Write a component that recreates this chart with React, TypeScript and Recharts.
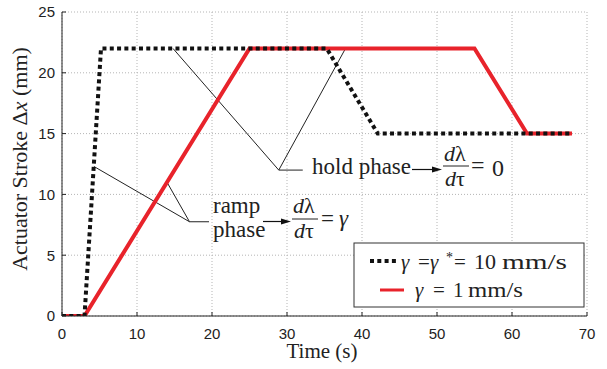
import React from "react";
import { LineChart, Line, XAxis, YAxis, CartesianGrid, ReferenceLine, Customized } from "recharts";

// gamma = gamma* = 10 mm/s (dotted black)
const timeFast = [0, 3, 5.2, 35.3, 42.1, 68];
const strokeFast = [0, 0, 22, 22, 15, 15];
// gamma = 1 mm/s (red)
const timeSlow = [0, 3, 25, 55, 62, 68];
const strokeSlow = [0, 0, 22, 22, 15, 15];

const xTicks = [0, 10, 20, 30, 40, 50, 60, 70];
const yTicks = [0, 5, 10, 15, 20, 25];

// annotation leader lines (data coordinates)
const holdVertex = { x: 28.9, y: 12 };
const holdStarts = [{ x: 14.8, y: 22 }, { x: 37.8, y: 22 }];
const holdEndX = 32.1;
const rampVertex = { x: 17.0, y: 7.75 };
const rampStarts = [{ x: 4.25, y: 12.3 }, { x: 14, y: 11 }];
const rampEndX = 19.6;

const fastData = timeFast.map((t, i) => ({ t, v: strokeFast[i] }));
const slowData = timeSlow.map((t, i) => ({ t, v: strokeSlow[i] }));

const RED = "#e8232b";
const SERIF = "'Liberation Serif', 'Times New Roman', serif";
const SANS = "'Liberation Sans', Arial, Helvetica, sans-serif";

const Arrow = ({ x1, x2, y }: { x1: number; x2: number; y: number }) => (
  <g>
    <line x1={x1} y1={y} x2={x2 - 7} y2={y} stroke="#111" strokeWidth={1.2} />
    <path d={`M${x2},${y} L${x2 - 10},${y - 3} L${x2 - 10},${y + 3} Z`} fill="#111" />
  </g>
);

const Frac = ({ x, yNum, yDen, yBar, w }: { x: number; yNum: number; yDen: number; yBar: number; w: number }) => (
  <g fontFamily={SERIF} fontSize={22} fill="#222">
    <text x={x} y={yNum}>
      <tspan fontStyle="italic">d</tspan>
      <tspan>λ</tspan>
    </text>
    <line x1={x - 1} x2={x + w} y1={yBar} y2={yBar} stroke="#222" strokeWidth={1} />
    <text x={x + 1} y={yDen}>
      <tspan fontStyle="italic">d</tspan>
      <tspan>τ</tspan>
    </text>
  </g>
);

const Overlay = () => (
  <g>
    {/* axis titles */}
    <text
      x={27}
      y={159}
      transform="rotate(-90, 27, 159)"
      textAnchor="middle"
      fontFamily={SERIF}
      fontSize={22}
      fill="#222"
    >
      Actuator Stroke Δ<tspan fontStyle="italic">x</tspan> (mm)
    </text>
    <text x={322} y={358} textAnchor="middle" fontFamily={SERIF} fontSize={21} fill="#222">
      Time (s)
    </text>

    {/* hold phase annotation */}
    <text x={312} y={174} fontFamily={SERIF} fontSize={23} fill="#222">hold phase</text>
    <Arrow x1={412} x2={442} y={169.5} />
    <Frac x={444} yNum={161} yDen={186} yBar={166} w={25} />
    <text x={471} y={173} fontFamily={SERIF} fontSize={24} fill="#222">=</text>
    <text x={492} y={176} fontFamily={SERIF} fontSize={24} fill="#222">0</text>

    {/* ramp phase annotation */}
    <text x={213} y={213} fontFamily={SERIF} fontSize={23} fill="#222">ramp</text>
    <text x={213} y={237} fontFamily={SERIF} fontSize={23} fill="#222">phase</text>
    <Arrow x1={263} x2={291} y={221.5} />
    <Frac x={293} yNum={213} yDen={238} yBar={219} w={25} />
    <text x={321} y={226} fontFamily={SERIF} fontSize={23} fill="#222">=</text>
    <text x={339} y={226} fontFamily={SERIF} fontSize={23} fontStyle="italic" fill="#222">γ</text>

    {/* legend */}
    <rect x={354} y={243} width={230} height={64} fill="#fff" stroke="#333" strokeWidth={1} />
    <line x1={370} x2={397} y1={261} y2={261} stroke="#111" strokeWidth={4} strokeDasharray="4 3.3" />
    <g fontFamily={SERIF} fontSize={21} fill="#222">
      <text x={401} y={269} fontStyle="italic">γ</text>
      <text x={418} y={269}>=</text>
      <text x={430} y={269} fontStyle="italic">γ</text>
      <text x={446} y={262} fontSize={14}>*</text>
      <text x={454} y={269}>=</text>
      <text x={474} y={269} fontSize={22}>10</text>
      <text x={502} y={269} fontSize={22} textLength={65} lengthAdjust="spacingAndGlyphs">mm/s</text>
      <text x={415} y={297} fontStyle="italic">γ</text>
      <text x={433} y={297}>=</text>
      <text x={453} y={297}>1</text>
      <text x={468} y={297} textLength={55} lengthAdjust="spacingAndGlyphs">mm/s</text>
    </g>
    <line x1={380} x2={404} y1={290} y2={290} stroke={RED} strokeWidth={3} />
  </g>
);

export default function App() {
  return (
    <div style={{ position: "absolute", left: 0, top: 0, width: 607, height: 369, background: "#fff" }}>
      <LineChart width={607} height={369} margin={{ top: 12, right: 20, bottom: 0, left: 0 }}>
        <CartesianGrid stroke="#b5b5b5" strokeDasharray="1 2" />
        <XAxis
          type="number"
          dataKey="t"
          domain={[0, 70]}
          ticks={xTicks}
          height={53}
          allowDataOverflow
          tickSize={-4}
          tickMargin={16}
          axisLine={{ stroke: "#222", strokeWidth: 1 }}
          tickLine={{ stroke: "#222" }}
          tick={{ fontFamily: SANS, fontSize: 15, fill: "#222" }}
        />
        <YAxis
          type="number"
          domain={[0, 25]}
          ticks={yTicks}
          width={62}
          allowDataOverflow
          tickSize={-4}
          tickMargin={11}
          axisLine={{ stroke: "#222", strokeWidth: 1 }}
          tickLine={{ stroke: "#222" }}
          tick={{ fontFamily: SANS, fontSize: 15, fill: "#222" }}
        />
        {holdStarts.map((s, i) => (
          <ReferenceLine key={"h" + i} segment={[s, holdVertex]} stroke="#222" strokeWidth={1} ifOverflow="visible" />
        ))}
        <ReferenceLine segment={[holdVertex, { x: holdEndX, y: holdVertex.y }]} stroke="#222" strokeWidth={1} ifOverflow="visible" />
        {rampStarts.map((s, i) => (
          <ReferenceLine key={"r" + i} segment={[s, rampVertex]} stroke="#222" strokeWidth={1} ifOverflow="visible" />
        ))}
        <ReferenceLine segment={[rampVertex, { x: rampEndX, y: rampVertex.y }]} stroke="#222" strokeWidth={1} ifOverflow="visible" />
        <Line
          data={slowData}
          dataKey="v"
          type="linear"
          stroke={RED}
          strokeWidth={4}
          dot={false}
          activeDot={false}
          isAnimationActive={false}
        />
        <Line
          data={fastData}
          dataKey="v"
          type="linear"
          stroke="#111"
          strokeWidth={4}
          strokeDasharray="4 3.3"
          dot={false}
          activeDot={false}
          isAnimationActive={false}
        />
        <Customized component={Overlay} />
      </LineChart>
    </div>
  );
}
